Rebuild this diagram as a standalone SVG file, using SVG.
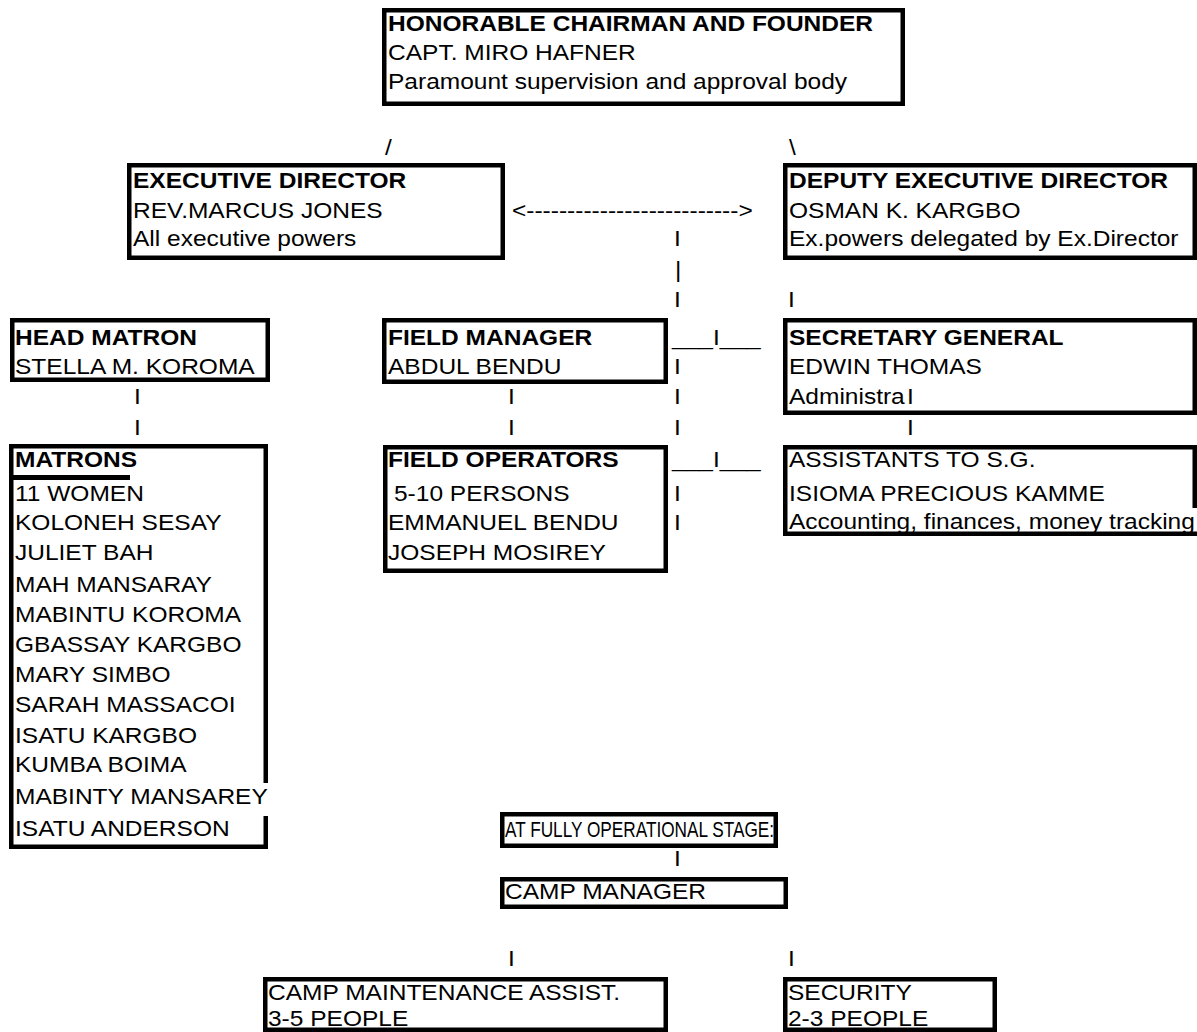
<svg xmlns="http://www.w3.org/2000/svg" width="1197" height="1032" viewBox="0 0 1197 1032">
<style>
rect.box, path.box { fill: none; stroke: #000; stroke-width: 4.5; stroke-linejoin: miter; }
line.bar { stroke: #000; stroke-width: 5; }
text { font-family: "Liberation Sans", Arial, sans-serif; font-size: 21.5px; fill: #000; transform-box: fill-box; transform-origin: 0 0; transform: scaleX(1.14); }
text.b { font-weight: bold; }
</style>
<rect width="1197" height="1032" fill="#fff"/>

<g id="chairman">
<rect class="box" x="384.25" y="10.25" width="518.5" height="93.5"/>
<text class="b" x="388" y="31">HONORABLE CHAIRMAN AND FOUNDER</text>
<text x="388" y="60">CAPT. MIRO HAFNER</text>
<text x="388" y="89">Paramount supervision and approval body</text>
</g>

<g id="executive-director">
<rect class="box" x="129.25" y="165.25" width="373.5" height="92.5"/>
<text class="b" x="133" y="188">EXECUTIVE DIRECTOR</text>
<text x="133" y="218">REV.MARCUS JONES</text>
<text x="133" y="246">All executive powers</text>
</g>

<g id="deputy-executive-director">
<rect class="box" x="785.25" y="165.25" width="409.5" height="92.5"/>
<text class="b" x="789" y="188">DEPUTY EXECUTIVE DIRECTOR</text>
<text x="789" y="218">OSMAN K. KARGBO</text>
<text x="789" y="246">Ex.powers delegated by Ex.Director</text>
</g>

<g id="head-matron">
<rect class="box" x="12.25" y="320.25" width="255.5" height="59.5"/>
<text class="b" x="15" y="345">HEAD MATRON</text>
<text x="15" y="374">STELLA M. KOROMA</text>
</g>

<g id="field-manager">
<rect class="box" x="384.25" y="320.25" width="281.5" height="61.5"/>
<text class="b" x="388" y="345">FIELD MANAGER</text>
<text x="388" y="374">ABDUL BENDU</text>
</g>

<g id="secretary-general">
<rect class="box" x="785.25" y="320.25" width="409.5" height="92.5"/>
<text class="b" x="789" y="345">SECRETARY GENERAL</text>
<text x="789" y="374">EDWIN THOMAS</text>
<text x="789" y="404">Administra</text>
</g>

<g id="matrons">
<path class="box" d="M265.75,783 V446.25 H11.25 V846.75 H265.75 V816"/>
<line class="bar" x1="11" y1="477.5" x2="130" y2="477.5"/>
<text class="b" x="15" y="467">MATRONS</text>
<text x="15" y="501">11 WOMEN</text>
<text x="15" y="530">KOLONEH SESAY</text>
<text x="15" y="560">JULIET BAH</text>
<text x="15" y="592">MAH MANSARAY</text>
<text x="15" y="622">MABINTU KOROMA</text>
<text x="15" y="652">GBASSAY  KARGBO</text>
<text x="15" y="682">MARY SIMBO</text>
<text x="15" y="712">SARAH MASSACOI</text>
<text x="15" y="743">ISATU KARGBO</text>
<text x="15" y="772">KUMBA BOIMA</text>
<text x="15" y="804">MABINTY MANSAREY</text>
<text x="15" y="836">ISATU ANDERSON</text>
</g>

<g id="field-operators">
<rect class="box" x="385.25" y="447.25" width="280.5" height="123.5"/>
<text class="b" x="388" y="467">FIELD OPERATORS</text>
<text x="394" y="501">5-10 PERSONS</text>
<text x="388" y="530">EMMANUEL BENDU</text>
<text x="388" y="560">JOSEPH MOSIREY</text>
</g>

<g id="assistants">
<path class="box" d="M1194.75,508 V447.25 H785.25 V533.75 H1197"/>
<text x="789" y="467">ASSISTANTS TO S.G.</text>
<text x="789" y="501">ISIOMA PRECIOUS KAMME</text>
<text x="789" y="529">Accounting, finances, money tracking</text>
</g>

<g id="operational-stage">
<rect class="box" x="502.25" y="814.25" width="273.5" height="31.5"/>
<text x="505" y="837" textLength="236" lengthAdjust="spacingAndGlyphs">AT FULLY OPERATIONAL STAGE:</text>
</g>

<g id="camp-manager">
<rect class="box" x="502.25" y="879.25" width="283.5" height="27.5"/>
<text x="505" y="899">CAMP MANAGER</text>
</g>

<g id="camp-maintenance">
<rect class="box" x="265.25" y="979.25" width="400.5" height="50.5"/>
<text x="268" y="1000">CAMP MAINTENANCE ASSIST.</text>
<text x="268" y="1026">3-5 PEOPLE</text>
</g>

<g id="security">
<rect class="box" x="785.25" y="979.25" width="209.5" height="50.5"/>
<text x="788" y="1000">SECURITY</text>
<text x="788" y="1026">2-3 PEOPLE</text>
</g>

<g id="connectors">
<text x="385" y="155">/</text>
<text x="789" y="155">\</text>
<text x="512" y="218">&lt;--------------------------&gt;</text>
<text x="674" y="246">I</text>
<text x="675" y="277">|</text>
<text x="674" y="307">I</text>
<text x="788" y="307">I</text>
<text x="672" y="345">___I___</text>
<text x="674" y="374">I</text>
<text x="674" y="404">I</text>
<text x="674" y="435">I</text>
<text x="134" y="404">I</text>
<text x="134" y="435">I</text>
<text x="508" y="404">I</text>
<text x="508" y="435">I</text>
<text x="907" y="404">I</text>
<text x="907" y="435">I</text>
<text x="672" y="467">___I___</text>
<text x="674" y="501">I</text>
<text x="674" y="530">I</text>
<text x="674" y="866">I</text>
<text x="508" y="966">I</text>
<text x="788" y="966">I</text>
</g>
</svg>
